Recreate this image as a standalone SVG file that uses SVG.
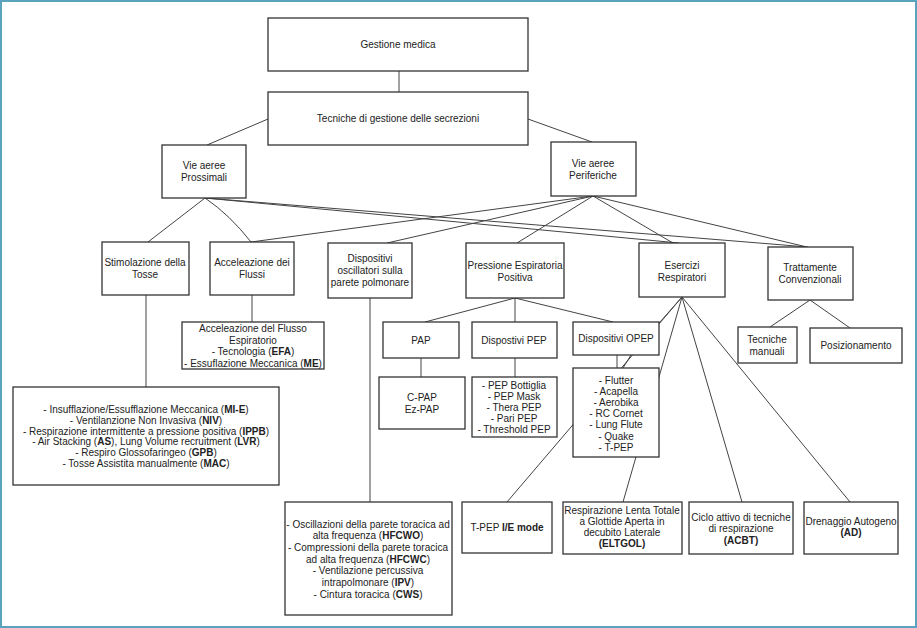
<svg xmlns="http://www.w3.org/2000/svg" width="917" height="628" viewBox="0 0 917 628">
<defs>
<style>
.bx{fill:#fff;stroke:#333;stroke-width:1.3}
.ln{fill:none;stroke:#444;stroke-width:1}
text{font-family:"Liberation Sans",Arial,sans-serif;font-size:10px;fill:#222;text-anchor:middle}
.b{font-weight:bold}
</style>
</defs>
<rect x="0" y="0" width="917" height="628" fill="#fff"/>
<rect x="1" y="1" width="915" height="626" fill="none" stroke="#5aa3bf" stroke-width="2"/>
<g id="connectors">
<path class="ln" d="M399,71V92"/>
<path class="ln" d="M268,119L207,145"/>
<path class="ln" d="M528,119L592,142"/>
<path class="ln" d="M205,198L148,242"/>
<path class="ln" d="M205,198Q230,215 251,242"/>
<path class="ln" d="M205,198L679,243"/>
<path class="ln" d="M205,198L808,247"/>
<path class="ln" d="M593,196L251,242"/>
<path class="ln" d="M593,196L387,243"/>
<path class="ln" d="M593,196L517,243"/>
<path class="ln" d="M593,196L673,243"/>
<path class="ln" d="M593,196L807,247"/>
<path class="ln" d="M252,295V322"/>
<path class="ln" d="M146,295V387"/>
<path class="ln" d="M370,298V502"/>
<path class="ln" d="M515,298L425,322"/>
<path class="ln" d="M515,298V322"/>
<path class="ln" d="M515,298L613,322"/>
<path class="ln" d="M421,358V377"/>
<path class="ln" d="M515,358V377"/>
<path class="ln" d="M617,355V368"/>
<path class="ln" d="M682,297L631,355L623,368"/>
<path class="ln" d="M682,297L507,502"/>
<path class="ln" d="M682,297L623,502"/>
<path class="ln" d="M682,297L742,502"/>
<path class="ln" d="M682,297L850,502"/>
<path class="ln" d="M810,300L770,327"/>
<path class="ln" d="M810,300L850,328"/>
</g>
<g id="n_gestione"><rect class="bx" x="268" y="18" width="260" height="53"/><text x="398" y="48">Gestione medica</text></g>
<g id="n_tecniche"><rect class="bx" x="268" y="92" width="260" height="53"/><text x="398" y="122">Tecniche di gestione delle secrezioni</text></g>
<g id="n_prossimali"><rect class="bx" x="162" y="145" width="84" height="53"/><text x="204" y="169">Vie aeree</text><text x="204" y="181">Prossimali</text></g>
<g id="n_periferiche"><rect class="bx" x="551" y="142" width="85" height="54"/><text x="593" y="167">Vie aeree</text><text x="593" y="179">Periferiche</text></g>
<g id="n_stimolazione"><rect class="bx" x="102" y="242" width="87" height="53"/><text x="145" y="266">Stimolazione della</text><text x="145" y="278">Tosse</text></g>
<g id="n_accelerazione"><rect class="bx" x="210" y="242" width="84" height="53"/><text x="252" y="266">Acceleazione dei</text><text x="252" y="278">Flussi</text></g>
<g id="n_oscillatori"><rect class="bx" x="328" y="243" width="84" height="55"/><text x="370" y="262">Dispositivi</text><text x="370" y="274">oscillatori sulla</text><text x="370" y="286">parete polmonare</text></g>
<g id="n_pressione"><rect class="bx" x="466" y="243" width="98" height="55"/><text x="515" y="269">Pressione Espiratoria</text><text x="515" y="281">Positiva</text></g>
<g id="n_esercizi"><rect class="bx" x="639" y="243" width="86" height="54"/><text x="682" y="269">Esercizi</text><text x="682" y="281">Respiratori</text></g>
<g id="n_trattamente"><rect class="bx" x="768" y="247" width="85" height="53"/><text x="810" y="271">Trattamente</text><text x="810" y="283">Convenzionali</text></g>
<g id="n_efa"><rect class="bx" x="182" y="322" width="142" height="47"/>
<text x="253" y="332">Acceleazione del Flusso</text>
<text x="253" y="343.5">Espiratorio</text>
<text x="253" y="355">- Tecnologia (<tspan class="b">EFA</tspan>)</text>
<text x="253" y="366.5">- Essuflazione Meccanica (<tspan class="b">ME</tspan>)</text></g>
<g id="n_mie"><rect class="bx" x="13" y="387" width="266" height="98"/>
<text x="146" y="413">- Insufflazione/Essufflazione Meccanica (<tspan class="b">MI-E</tspan>)</text>
<text x="146" y="423.8">- Ventilanzione Non Invasiva (<tspan class="b">NIV</tspan>)</text>
<text x="146" y="434.6">- Respirazione intermittente a pressione positiva (<tspan class="b">IPPB</tspan>)</text>
<text x="146" y="445.4">- Air Stacking (<tspan class="b">AS</tspan>), Lung Volume recruitment (<tspan class="b">LVR</tspan>)</text>
<text x="146" y="456.2">- Respiro Glossofaringeo (<tspan class="b">GPB</tspan>)</text>
<text x="146" y="467">- Tosse Assistita manualmente (<tspan class="b">MAC</tspan>)</text></g>
<g id="n_hfcwo"><rect class="bx" x="285" y="502" width="167" height="113"/>
<text x="368" y="527.5">- Oscillazioni della parete toracica ad</text>
<text x="368" y="539.2">alta frequenza (<tspan class="b">HFCWO</tspan>)</text>
<text x="368" y="550.9">- Compressioni della parete toracica</text>
<text x="368" y="562.6">ad alta frequenza (<tspan class="b">HFCWC</tspan>)</text>
<text x="368" y="574.3">- Ventilazione percussiva</text>
<text x="368" y="586">intrapolmonare (<tspan class="b">IPV</tspan>)</text>
<text x="368" y="597.7">- Cintura toracica (<tspan class="b">CWS</tspan>)</text></g>
<g id="n_pap"><rect class="bx" x="383" y="322" width="76" height="36"/><text x="421" y="343.5">PAP</text></g>
<g id="n_pepdev"><rect class="bx" x="472" y="322" width="85" height="36"/><text x="514" y="343.5">Dispostivi PEP</text></g>
<g id="n_opep"><rect class="bx" x="573" y="322" width="86" height="33"/><text x="616" y="342">Dispositivi OPEP</text></g>
<g id="n_cpap"><rect class="bx" x="379" y="377" width="86" height="52"/><text x="422" y="401">C-PAP</text><text x="422" y="412.5">Ez-PAP</text></g>
<g id="n_peplist"><rect class="bx" x="472" y="377" width="85" height="60"/>
<text x="514" y="388.5">- PEP Bottiglia</text>
<text x="514" y="399.5">- PEP Mask</text>
<text x="514" y="410.5">- Thera PEP</text>
<text x="514" y="421.5">- Pari PEP</text>
<text x="514" y="432.5">- Threshold PEP</text></g>
<g id="n_opeplist"><rect class="bx" x="573" y="368" width="86" height="89"/>
<text x="616" y="383.5">- Flutter</text>
<text x="616" y="394.7">- Acapella</text>
<text x="616" y="405.9">- Aerobika</text>
<text x="616" y="417.1">- RC Cornet</text>
<text x="616" y="428.3">- Lung Flute</text>
<text x="616" y="439.5">- Quake</text>
<text x="616" y="450.7">- T-PEP</text></g>
<g id="n_tecnichemanuali"><rect class="bx" x="738" y="327" width="59" height="36"/><text x="767" y="343">Tecniche</text><text x="767" y="355">manuali</text></g>
<g id="n_posizionamento"><rect class="bx" x="810" y="328" width="92" height="35"/><text x="856" y="349">Posizionamento</text></g>
<g id="n_tpep"><rect class="bx" x="462" y="502" width="90" height="51"/><text x="507" y="531">T-PEP <tspan class="b">I/E mode</tspan></text></g>
<g id="n_eltgol"><rect class="bx" x="563" y="502" width="119" height="52"/>
<text x="622" y="513.5">Respirazione Lenta Totale</text>
<text x="622" y="524.5">a Glottide Aperta in</text>
<text x="622" y="535.5">decubito Laterale</text>
<text x="622" y="546.5" class="b">(ELTGOL)</text></g>
<g id="n_acbt"><rect class="bx" x="689" y="502" width="104" height="52"/>
<text x="741" y="521">Ciclo attivo di tecniche</text>
<text x="741" y="532">di respirazione</text>
<text x="741" y="543.5" class="b">(ACBT)</text></g>
<g id="n_ad"><rect class="bx" x="804" y="502" width="94" height="52"/>
<text x="851" y="524.5">Drenaggio Autogeno</text>
<text x="851" y="535.5" class="b">(AD)</text></g>
</svg>
